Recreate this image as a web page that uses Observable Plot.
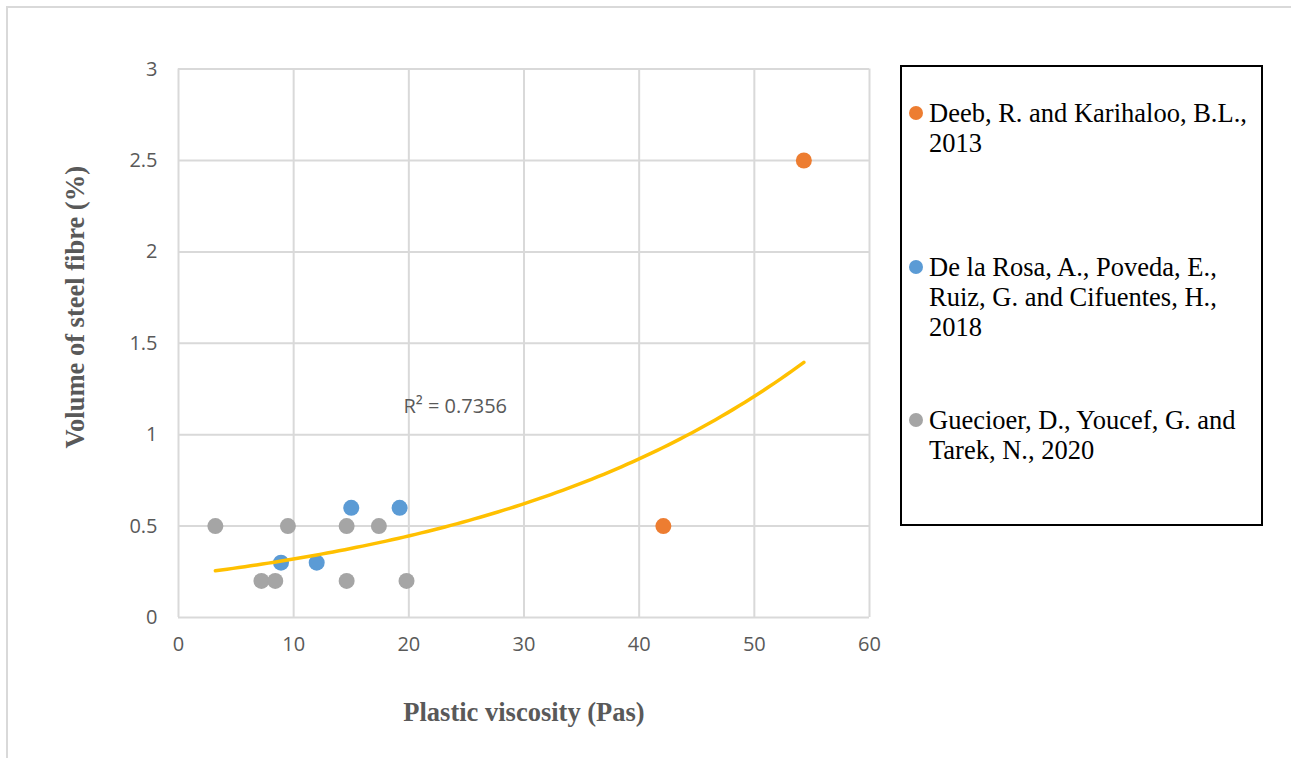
<!DOCTYPE html>
<html>
<head>
<meta charset="utf-8">
<script src="https://cdn.jsdelivr.net/npm/d3@7"></script>
<script src="https://cdn.jsdelivr.net/npm/@observablehq/plot@0.6"></script>
<style>
  html, body { margin: 0; padding: 0; background: #fff; }
  #wrap { position: relative; width: 1291px; height: 758px; overflow: hidden; }
  #outer { position: absolute; left: 6px; top: 6px; width: 1400px; height: 900px; border: 2px solid #d9d9d9; box-sizing: border-box; pointer-events: none; }
  #legend { position: absolute; left: 900px; top: 65px; width: 363px; height: 461px; border: 2.5px solid #000; box-sizing: border-box; background: #fff; font-family: "Liberation Serif", "Times New Roman", serif; font-size: 26.5px; line-height: 30px; color: #000; }
  .item { position: absolute; left: 27px; }
  .dot { position: absolute; left: -20px; top: 8px; width: 14px; height: 14px; border-radius: 50%; }
</style>
</head>
<body>
<div id="wrap">
  <div id="chart"></div>
  <div id="outer"></div>
  <div id="legend"></div>
</div>
<script>
// Series data
const deebX = [42.1, 54.3];
const deebY = [0.5, 2.5];
const rosaX = [8.9, 12.0, 15.0, 19.2];
const rosaY = [0.3, 0.3, 0.6, 0.6];
const guecX = [3.2, 7.2, 8.4, 9.5, 14.6, 14.6, 17.4, 19.8];
const guecY = [0.5, 0.2, 0.2, 0.5, 0.5, 0.2, 0.5, 0.2];

const seriesNames = [
  "Deeb, R. and Karihaloo, B.L., 2013",
  "De la Rosa, A., Poveda, E., Ruiz, G. and Cifuentes, H., 2018",
  "Guecioer, D., Youcef, G. and Tarek, N., 2020"
];
const legendLines = [
  ["Deeb, R. and Karihaloo, B.L.,", "2013"],
  ["De la Rosa, A., Poveda, E.,", "Ruiz, G. and Cifuentes, H.,", "2018"],
  ["Guecioer, D., Youcef, G. and", "Tarek, N., 2020"]
];
const seriesColors = ["#ED7D31", "#5B9BD5", "#A5A5A5"];
const xTicks = [0, 10, 20, 30, 40, 50, 60];
const yTicks = [0, 0.5, 1, 1.5, 2, 2.5, 3];
const r2Label = "R² = 0.7356";
const xTitle = "Plastic viscosity (Pas)";
const yTitle = "Volume of steel fibre (%)";

const toRows = (xs, ys, s) => xs.map((x, i) => ({x, y: ys[i], s}));
const rows = [
  ...toRows(deebX, deebY, seriesNames[0]),
  ...toRows(rosaX, rosaY, seriesNames[1]),
  ...toRows(guecX, guecY, seriesNames[2])
];

// Exponential trendline (least squares on ln y), as Excel does
const mx = d3.mean(rows, d => d.x);
const my = d3.mean(rows, d => Math.log(d.y));
const b = d3.sum(rows, d => (d.x - mx) * (Math.log(d.y) - my)) / d3.sum(rows, d => (d.x - mx) ** 2);
const a = Math.exp(my - b * mx);
const [xmin, xmax] = d3.extent(rows, d => d.x);
const trend = d3.range(0, 101).map(i => {
  const x = xmin + (xmax - xmin) * i / 100;
  return {x, y: a * Math.exp(b * x)};
});

const tickFont = "'Open Sans', 'DejaVu Sans', sans-serif";
const titleFont = "'Liberation Serif', 'Times New Roman', serif";

const chart = Plot.plot({
  width: 1291,
  height: 758,
  marginLeft: 178,
  marginRight: 422,
  marginTop: 68.6,
  marginBottom: 141,
  style: {background: "transparent", overflow: "visible"},
  x: {domain: [0, 60], ticks: xTicks, axis: null},
  y: {domain: [0, 3], ticks: yTicks, axis: null},
  color: {domain: seriesNames, range: seriesColors},
  marks: [
    Plot.gridX(xTicks, {stroke: "#d9d9d9", strokeOpacity: 1, strokeWidth: 2}),
    Plot.gridY(yTicks, {stroke: "#d9d9d9", strokeOpacity: 1, strokeWidth: 2}),
    Plot.axisX(xTicks, {tickSize: 0, tickPadding: 19, fontSize: 20, fontFamily: tickFont, fill: "#595959", label: null, tickFormat: d => String(d)}),
    Plot.axisY(yTicks, {tickSize: 0, tickPadding: 21, fontSize: 20, fontFamily: tickFont, fill: "#595959", label: null, tickFormat: d => String(d)}),
    Plot.dot(rows, {x: "x", y: "y", fill: "s", r: 8}),
    Plot.line(trend, {x: "x", y: "y", stroke: "#FFC000", strokeWidth: 3.5, curve: "linear"}),
    Plot.text([r2Label], {frameAnchor: "top-left", dx: 225, dy: 337, text: d => d, textAnchor: "start", lineAnchor: "middle", fontSize: 20, fontFamily: tickFont, fill: "#595959"}),
    Plot.text([xTitle], {frameAnchor: "bottom", dy: 95, text: d => d, textAnchor: "middle", lineAnchor: "middle", fontSize: 26.5, fontWeight: "bold", fontFamily: titleFont, fill: "#595959"}),
    Plot.text([yTitle], {frameAnchor: "left", dx: -103, dy: -36, rotate: -90, text: d => d, textAnchor: "middle", lineAnchor: "middle", fontSize: 26.5, fontWeight: "bold", fontFamily: titleFont, fill: "#595959"})
  ]
});
document.getElementById("chart").appendChild(chart);

// Legend
const legend = document.getElementById("legend");
const itemTops = [31, 185, 338];
legendLines.forEach((lines, i) => {
  const item = document.createElement("div");
  item.className = "item";
  item.style.top = itemTops[i] + "px";
  const dot = document.createElement("span");
  dot.className = "dot";
  dot.style.background = seriesColors[i];
  item.appendChild(dot);
  lines.forEach(t => {
    const l = document.createElement("div");
    l.textContent = t;
    l.style.whiteSpace = "nowrap";
    item.appendChild(l);
  });
  legend.appendChild(item);
});
</script>
</body>
</html>
